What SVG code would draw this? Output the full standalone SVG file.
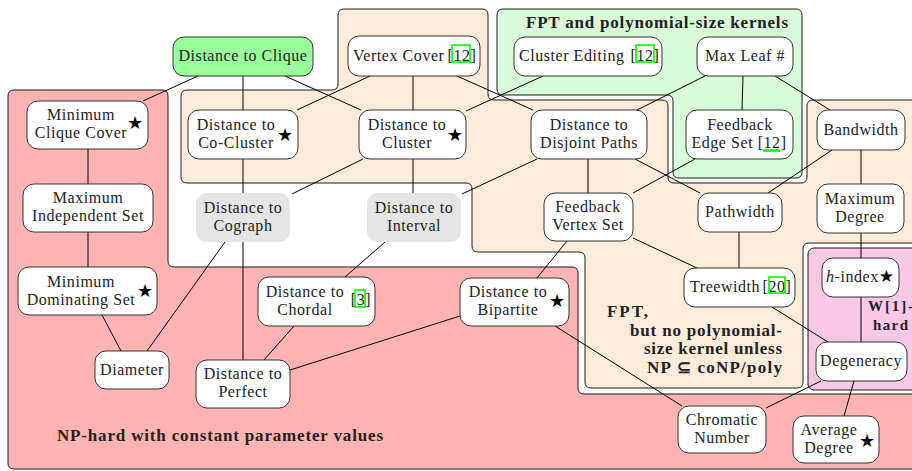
<svg xmlns="http://www.w3.org/2000/svg" width="912" height="471" viewBox="0 0 912 471">
  <style>
    .reg { stroke: #1a1a1a; stroke-width: 1; }
    .box { fill: #ffffff; stroke: #333333; stroke-width: 1; }
    .gray { fill: #e5e5e5; stroke: none; }
    text { font-family: "Liberation Serif", "Times New Roman", serif; font-size: 16px; fill: #222222; letter-spacing: 0.55px; }
    .c { text-anchor: middle; }
    .star { font-family: "DejaVu Sans", sans-serif; font-size: 18px; letter-spacing: 0; text-anchor: middle; fill: #000000; }
    .lbl { font-weight: bold; font-size: 17px; letter-spacing: 0; fill: #222222; }
    .lbl.sm { font-size: 15px; }
    .edges line { stroke: #000000; stroke-width: 1; }
    .cite { fill: none; stroke: #00ff00; stroke-width: 1.6; }
  </style>

  <rect x="0" y="0" width="912" height="471" fill="#ffffff"/>

  <!-- complexity regions -->
  <g id="regions">
    <!-- NP-hard with constant parameter values -->
    <path id="region-nphard" class="reg" fill="#ffb3b3"
      d="M 14,90 L 162,90 Q 168,90 168,96 L 168,261 Q 168,267 174,267 L 572,267 Q 578,267 578,273 L 578,388 Q 578,394 584,394 L 924,394 Q 930,394 930,400 L 930,463 Q 930,469 924,469 L 14,469 Q 8,469 8,463 L 8,96 Q 8,90 14,90 Z"/>
    <!-- FPT, no polynomial kernel -->
    <path id="region-fpt" class="reg" fill="#feecda"
      d="M 344,9 L 482,9 Q 488,9 488,15 L 488,94 Q 488,100 494,100 L 662,100 Q 668,100 668,106 L 668,177 Q 668,183 674,183 L 801,183 Q 807,183 807,177 L 807,106 Q 807,100 813,100 L 924,100 Q 930,100 930,106 L 930,237 Q 930,243 924,243 L 809,243 Q 803,243 803,249 L 803,382 Q 803,388 797,388 L 591,388 Q 585,388 585,382 L 585,258 Q 585,252 579,252 L 478,252 Q 472,252 472,246 L 472,189 Q 472,183 466,183 L 187,183 Q 181,183 181,177 L 181,96 Q 181,90 187,90 L 332,90 Q 338,90 338,84 L 338,15 Q 338,9 344,9 Z"/>
    <!-- FPT and polynomial-size kernels -->
    <path id="region-kernel" class="reg" fill="#d8fcd8"
      d="M 503,9 L 796,9 Q 802,9 802,15 L 802,172 Q 802,178 796,178 L 679,178 Q 673,178 673,172 L 673,101 Q 673,95 667,95 L 503,95 Q 497,95 497,89 L 497,15 Q 497,9 503,9 Z"/>
    <!-- W[1]-hard -->
    <rect id="region-w1" class="reg" fill="#f9c8e4" x="808" y="248" width="122" height="142" rx="6"/>
  </g>

  <!-- region labels -->
  <g id="labels">
    <text class="lbl" x="526" y="28" textLength="262" lengthAdjust="spacing">FPT and polynomial-size kernels</text>
    <text class="lbl" x="607" y="317" textLength="41" lengthAdjust="spacing">FPT,</text>
    <text class="lbl" x="630" y="336" textLength="152" lengthAdjust="spacing">but no polynomial-</text>
    <text class="lbl" x="644" y="354" textLength="138" lengthAdjust="spacing">size kernel unless</text>
    <text class="lbl" x="647" y="373" textLength="135" lengthAdjust="spacing">NP ⊆ coNP/poly</text>
    <text class="lbl sm" x="868" y="311" textLength="45" lengthAdjust="spacing">W[1]-</text>
    <text class="lbl sm" x="873" y="330" textLength="35" lengthAdjust="spacing">hard</text>
    <text class="lbl" x="57" y="441" textLength="326" lengthAdjust="spacing">NP-hard with constant parameter values</text>
  </g>

  <!-- connectors -->
  <g class="edges">
    <line x1="198" y1="76" x2="143" y2="101"/>
    <line x1="243" y1="76" x2="243" y2="110"/>
    <line x1="285" y1="76" x2="361" y2="110"/>
    <line x1="370" y1="76" x2="297" y2="110"/>
    <line x1="413" y1="76" x2="413" y2="110"/>
    <line x1="457" y1="76" x2="533" y2="110"/>
    <line x1="543" y1="76" x2="466" y2="111"/>
    <line x1="705" y1="76" x2="637" y2="110"/>
    <line x1="743" y1="76" x2="742" y2="110"/>
    <line x1="775" y1="76" x2="830" y2="110"/>
    <line x1="88" y1="149" x2="88" y2="184"/>
    <line x1="88" y1="232" x2="88" y2="267"/>
    <line x1="243" y1="159" x2="243" y2="193"/>
    <line x1="363" y1="159" x2="292" y2="194"/>
    <line x1="413" y1="159" x2="413" y2="193"/>
    <line x1="537" y1="159" x2="462" y2="194"/>
    <line x1="588" y1="159" x2="588" y2="193"/>
    <line x1="635" y1="159" x2="700" y2="193"/>
    <line x1="695" y1="159" x2="633" y2="193"/>
    <line x1="832" y1="150" x2="768" y2="193"/>
    <line x1="861" y1="150" x2="861" y2="184"/>
    <line x1="861" y1="233" x2="861" y2="258"/>
    <line x1="861" y1="297" x2="861" y2="342"/>
    <line x1="739" y1="232" x2="739" y2="268"/>
    <line x1="633" y1="238" x2="697" y2="268"/>
    <line x1="567" y1="241" x2="537" y2="278"/>
    <line x1="772" y1="307" x2="828" y2="342"/>
    <line x1="821" y1="381" x2="766" y2="408"/>
    <line x1="854" y1="381" x2="844" y2="416"/>
    <line x1="555" y1="326" x2="682" y2="406"/>
    <line x1="460" y1="316" x2="290" y2="370"/>
    <line x1="294" y1="326" x2="264" y2="360"/>
    <line x1="385" y1="242" x2="345" y2="277"/>
    <line x1="243" y1="242" x2="243" y2="360"/>
    <line x1="225" y1="242" x2="147" y2="351"/>
    <line x1="102" y1="315" x2="121" y2="351"/>
  </g>

  <!-- parameters -->
  <g id="dist-clique">
    <rect x="173" y="37" width="140" height="39" rx="11" fill="#99ff99" stroke="#333" stroke-width="1"/>
    <text class="c" x="243" y="61">Distance to Clique</text>
  </g>
  <g id="vertex-cover">
    <rect class="box" x="348" y="36" width="132" height="40" rx="11"/>
    <text x="353" y="61">Vertex Cover</text>
    <text class="c" x="462" y="61">[12]</text>
    <rect class="cite" x="452" y="45" width="18" height="17"/>
  </g>
  <g id="cluster-editing">
    <rect class="box" x="514" y="37" width="148" height="39" rx="11"/>
    <text x="519" y="61">Cluster Editing</text>
    <text class="c" x="645" y="61">[12]</text>
    <rect class="cite" x="636" y="45" width="18" height="17"/>
  </g>
  <g id="max-leaf">
    <rect class="box" x="697" y="37" width="96" height="39" rx="11"/>
    <text class="c" x="745" y="61">Max Leaf #</text>
  </g>
  <g id="min-clique-cover">
    <rect class="box" x="27" y="101" width="121" height="48" rx="11"/>
    <text class="c"><tspan x="81" y="120">Minimum</tspan><tspan x="81" y="138">Clique Cover</tspan></text>
    <text class="star" x="135" y="129">★</text>
  </g>
  <g id="dist-co-cluster">
    <rect class="box" x="188" y="110" width="110" height="49" rx="11"/>
    <text class="c"><tspan x="236" y="130">Distance to</tspan><tspan x="236" y="148">Co-Cluster</tspan></text>
    <text class="star" x="285" y="141">★</text>
  </g>
  <g id="dist-cluster">
    <rect class="box" x="359" y="110" width="107" height="49" rx="11"/>
    <text class="c"><tspan x="407" y="130">Distance to</tspan><tspan x="407" y="148">Cluster</tspan></text>
    <text class="star" x="455" y="141">★</text>
  </g>
  <g id="dist-disjoint-paths">
    <rect class="box" x="531" y="110" width="116" height="49" rx="11"/>
    <text class="c"><tspan x="589" y="130">Distance to</tspan><tspan x="589" y="148">Disjoint Paths</tspan></text>
  </g>
  <g id="feedback-edge-set">
    <rect class="box" x="686" y="110" width="107" height="49" rx="11"/>
    <text class="c"><tspan x="740" y="130">Feedback</tspan><tspan x="739" y="148">Edge Set [12]</tspan></text>
    <line x1="763" y1="150.5" x2="780" y2="150.5" stroke="#00ff00" stroke-width="2.5"/>
  </g>
  <g id="bandwidth">
    <rect class="box" x="817" y="110" width="88" height="40" rx="11"/>
    <text class="c" x="861" y="135">Bandwidth</text>
  </g>
  <g id="max-degree">
    <rect class="box" x="817" y="184" width="87" height="49" rx="11"/>
    <text class="c"><tspan x="860" y="204">Maximum</tspan><tspan x="860" y="222">Degree</tspan></text>
  </g>
  <g id="max-independent-set">
    <rect class="box" x="23" y="184" width="130" height="48" rx="11"/>
    <text class="c"><tspan x="88" y="203">Maximum</tspan><tspan x="88" y="221">Independent Set</tspan></text>
  </g>
  <g id="dist-cograph">
    <rect class="gray" x="196" y="193" width="94" height="49" rx="11"/>
    <text class="c"><tspan x="243" y="213">Distance to</tspan><tspan x="243" y="231">Cograph</tspan></text>
  </g>
  <g id="dist-interval">
    <rect class="gray" x="367" y="193" width="94" height="49" rx="11"/>
    <text class="c"><tspan x="414" y="213">Distance to</tspan><tspan x="414" y="231">Interval</tspan></text>
  </g>
  <g id="feedback-vertex-set">
    <rect class="box" x="544" y="193" width="89" height="48" rx="11"/>
    <text class="c"><tspan x="588" y="212">Feedback</tspan><tspan x="588" y="230">Vertex Set</tspan></text>
  </g>
  <g id="pathwidth">
    <rect class="box" x="698" y="193" width="84" height="39" rx="11"/>
    <text class="c" x="740" y="217">Pathwidth</text>
  </g>
  <g id="min-dominating-set">
    <rect class="box" x="18" y="267" width="139" height="48" rx="11"/>
    <text class="c"><tspan x="81" y="287">Minimum</tspan><tspan x="81" y="305">Dominating Set</tspan></text>
    <text class="star" x="145" y="297">★</text>
  </g>
  <g id="dist-chordal">
    <rect class="box" x="258" y="277" width="117" height="49" rx="11"/>
    <text class="c"><tspan x="305" y="297">Distance to</tspan><tspan x="305" y="315">Chordal</tspan></text>
    <text class="c" x="361" y="305">[3]</text>
    <rect class="cite" x="355" y="290" width="10" height="17"/>
  </g>
  <g id="dist-bipartite">
    <rect class="box" x="460" y="278" width="109" height="48" rx="11"/>
    <text class="c"><tspan x="508" y="297">Distance to</tspan><tspan x="508" y="315">Bipartite</tspan></text>
    <text class="star" x="557" y="307">★</text>
  </g>
  <g id="treewidth">
    <rect class="box" x="684" y="268" width="111" height="39" rx="11"/>
    <text x="690" y="292" letter-spacing="0.3">Treewidth</text>
    <text class="c" x="777" y="292">[20]</text>
    <rect class="cite" x="769" y="277" width="16" height="16"/>
  </g>
  <g id="h-index">
    <rect class="box" x="822" y="258" width="77" height="39" rx="11"/>
    <text class="c" x="860" y="282"><tspan font-style="italic">h</tspan>-index<tspan font-family="DejaVu Sans, sans-serif" font-size="17" letter-spacing="0" fill="#000">★</tspan></text>
  </g>
  <g id="degeneracy">
    <rect class="box" x="816" y="342" width="91" height="39" rx="11"/>
    <text class="c" x="861" y="366">Degeneracy</text>
  </g>
  <g id="diameter">
    <rect class="box" x="95" y="351" width="74" height="38" rx="11"/>
    <text class="c" x="132" y="375">Diameter</text>
  </g>
  <g id="dist-perfect">
    <rect class="box" x="196" y="360" width="94" height="48" rx="11"/>
    <text class="c"><tspan x="243" y="379">Distance to</tspan><tspan x="243" y="397">Perfect</tspan></text>
  </g>
  <g id="chromatic-number">
    <rect class="box" x="678" y="406" width="88" height="47" rx="11"/>
    <text class="c"><tspan x="722" y="425">Chromatic</tspan><tspan x="722" y="443">Number</tspan></text>
  </g>
  <g id="average-degree">
    <rect class="box" x="793" y="416" width="86" height="47" rx="11"/>
    <text class="c"><tspan x="829" y="435">Average</tspan><tspan x="829" y="453">Degree</tspan></text>
    <text class="star" x="867" y="447">★</text>
  </g>
</svg>
